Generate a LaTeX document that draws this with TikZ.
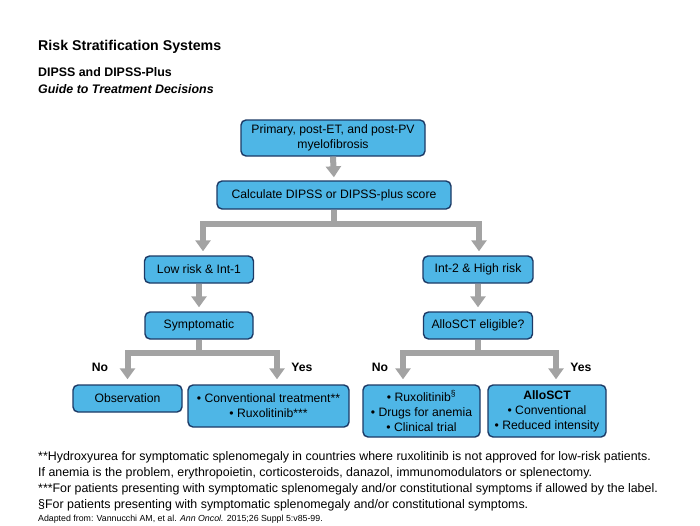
\documentclass[tikz,border=0pt]{standalone}
\usepackage{fontspec}
\setmainfont{Liberation Sans}
\usetikzlibrary{arrows.meta}
\definecolor{boxfill}{HTML}{4EB6E6}
\definecolor{boxline}{HTML}{1C3A66}
\definecolor{arrgray}{HTML}{A3A3A3}
\begin{document}
\begin{tikzpicture}[x=1pt,y=-1pt,
  box/.style={draw=boxline, line width=1.4pt, fill=boxfill, rounded corners=5pt,
    align=center, inner sep=0pt, font=\fontsize{12.2}{15}\selectfont},
  gline/.style={draw=arrgray, line width=6pt},
  garrow/.style={gline, -{Triangle[width=15pt,length=11pt]}, shorten >=4pt},
  lab/.style={font=\bfseries\fontsize{12.2}{14}\selectfont, inner sep=0pt},
  txt/.style={anchor=base west, inner sep=0pt}]
\useasboundingbox (0,0) rectangle (700,525);
% titles
\node[txt, font=\bfseries\fontsize{14.2}{16}\selectfont] (t1) at (38,50) {Risk Stratification Systems};
\node[txt, font=\bfseries\fontsize{12.4}{14}\selectfont] (t2) at (38,76) {DIPSS and DIPSS-Plus};
\node[txt, font=\bfseries\itshape\fontsize{12.4}{14}\selectfont] (t3) at (38,93) {Guide to Treatment Decisions};
% boxes
\node[box, minimum width=184pt, minimum height=36pt] (b1) at (333,138) {Primary, post-ET, and post-PV\\myelofibrosis};
\node[box, minimum width=234pt, minimum height=28pt] (b2) at (334,195) {Calculate DIPSS or DIPSS-plus score};
\node[box, minimum width=109pt, minimum height=27pt] (b3) at (199,269.5) {Low risk \& Int-1};
\node[box, minimum width=110pt, minimum height=27pt] (b4) at (478,269.5) {Int-2 \& High risk};
\node[box, minimum width=108pt, minimum height=27pt] (b5) at (199,325.5) {Symptomatic};
\node[box, minimum width=109pt, minimum height=27pt] (b6) at (478,325.5) {AlloSCT eligible?};
\node[box, minimum width=109pt, minimum height=27pt] (b7) at (127.5,398.5) {Observation};
\node[box, minimum width=161pt, minimum height=42pt] (b8) at (268.5,406) {• Conventional treatment**\\• Ruxolitinib***};
\node[box, minimum width=117pt, minimum height=52pt] (b9) at (421.5,411) {• Ruxolitinib\textsuperscript{§}\\• Drugs for anemia\\• Clinical trial};
\node[box, minimum width=118pt, minimum height=52pt] (b10) at (547,411) {\textbf{AlloSCT}\\• Conventional\\• Reduced intensity};
% connectors
\draw[garrow, shorten >=3pt] (b1.south) -- (b2.north);
\draw[gline] (b2.south) -- ++(0,14) coordinate (s1);
\draw[garrow] (s1) -| ([xshift=4pt]b3.north);
\draw[garrow] (s1) -| ([xshift=1pt]b4.north);
\draw[garrow] (b3.south) -- (b5.north);
\draw[garrow] (b4.south) -- (b6.north);
\draw[gline] (b5.south) -- ++(0,13) coordinate (s2);
\draw[garrow, shorten >=5pt] (s2) -| (b7.north);
\draw[garrow, shorten >=5pt] (s2) -| ([xshift=8.5pt]b8.north);
\draw[gline] (b6.south) -- ++(0,13) coordinate (s3);
\draw[garrow, shorten >=5pt] (s3) -| ([xshift=-18.5pt]b9.north);
\draw[garrow, shorten >=5pt] (s3) -| ([xshift=9pt]b10.north);
% labels
\node[lab] (n1) at (100,367) {No};
\node[lab] (y1) at (302,367) {Yes};
\node[lab] (n2) at (380,367) {No};
\node[lab] (y2) at (581,367) {Yes};
% footnotes
\begin{scope}[every node/.style={txt, font=\fontsize{12.4}{14}\selectfont}]
\node (f1) at (38,460) {**Hydroxyurea for symptomatic splenomegaly in countries where ruxolitinib is not approved for low-risk patients.};
\node (f2) at (38,476) {If anemia is the problem, erythropoietin, corticosteroids, danazol, immunomodulators or splenectomy.};
\node (f3) at (38,492) {***For patients presenting with symptomatic splenomegaly and/or constitutional symptoms if allowed by the label.};
\node (f4) at (38,508) {§For patients presenting with symptomatic splenomegaly and/or constitutional symptoms.};
\end{scope}
\node[txt, font=\fontsize{8.8}{10}\selectfont] (f5) at (38,521) {Adapted from: Vannucchi AM, et al. \textit{Ann Oncol.} 2015;26 Suppl 5:v85-99.};
\end{tikzpicture}
\end{document}
